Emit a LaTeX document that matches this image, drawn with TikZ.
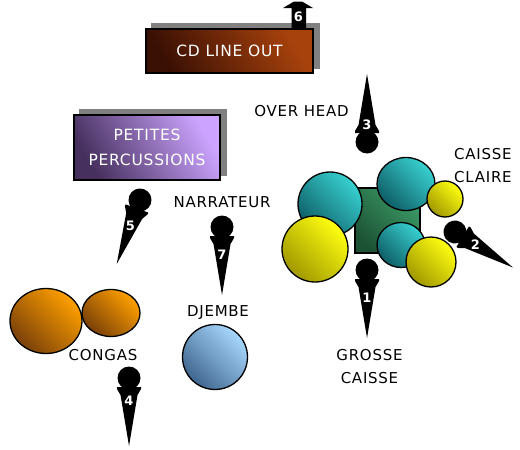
\documentclass[tikz,border=0pt]{standalone}
\usepackage{fontspec}
\setmainfont{DejaVu Sans}[LetterSpace=5]
\usetikzlibrary{backgrounds,shapes.geometric}
\definecolor{tealL}{HTML}{38D0D0}
\definecolor{tealD}{HTML}{0E5E66}
\definecolor{yelL}{HTML}{FFFF10}
\definecolor{yelD}{HTML}{A09800}
\definecolor{grnL}{HTML}{3C9A66}
\definecolor{grnD}{HTML}{1C5234}
\definecolor{orgL}{HTML}{FFA000}
\definecolor{orgD}{HTML}{7A4008}
\definecolor{bluL}{HTML}{A8D8FF}
\definecolor{bluD}{HTML}{40668E}
\definecolor{cdL}{HTML}{A8420C}
\definecolor{cdD}{HTML}{3A1004}
\definecolor{purL}{HTML}{CCA4FF}
\definecolor{purD}{HTML}{46305E}
\definecolor{shadowgray}{HTML}{808080}
\newcommand\drawmic[6]{%
  \begin{scope}[shift={(#2,#3)},rotate=#4]
    \fill[black] (0,0) circle[radius=11.5];
    \fill[black] (-12,9) -- (12,9) -- (12,11) -- (8.5,17) -- (0,68) -- (-8.5,17) -- (-12,11) -- cycle;
    \node[micnum] (#1) at (0,#6) {#5};
  \end{scope}}
\begin{document}
\begin{tikzpicture}[x=1pt,y=-1pt,
  lbl/.style={inner sep=0pt,text=black,font=\fontsize{15}{23}\selectfont},
  boxlbl/.style={inner sep=0pt,text=white,font=\fontsize{15.5}{25}\selectfont},
  micnum/.style={inner sep=0pt,text=white,font=\fontsize{13}{13}\selectfont\bfseries},
  drum/.style 2 args={draw=black,line width=1.3pt,top color=#1,bottom color=#2,shading angle=-45,inner sep=0pt},
  panel/.style 2 args={draw=black,line width=2pt,rectangle,top color=#1,bottom color=#2,shading angle=-60,inner sep=0pt}]
\useasboundingbox (0,0) rectangle (520,450);

% boxes
\node[panel={cdL}{cdD},minimum width=167pt,minimum height=44pt] (cd) at (229.5,51) {};
\node[boxlbl] (cdtxt) at (cd.center) {CD LINE OUT};
\node[panel={purL}{purD},minimum width=146pt,minimum height=65pt] (pp) at (147,147.5) {};
\node[boxlbl,align=center] (pptxt) at (pp.center) {PETITES\\PERCUSSIONS};
\begin{scope}[on background layer]
  \fill[white] (0,0) rectangle (520,450);
  \fill[shadowgray] ([shift={(6,-5)}]cd.south west) rectangle ([shift={(6,-5)}]cd.north east);
  \fill[shadowgray] ([shift={(6,-5)}]pp.south west) rectangle ([shift={(6,-5)}]pp.north east);
\end{scope}

% mic 6 (arrow)
\fill[black] (283,8) -- (294,1.5) -- (302,1.5) -- (313,8) -- (306,8) -- (306,29) -- (291.5,29) -- (291.5,8) -- cycle;
\node[micnum] (m6) at (298.5,17) {6};

% drum kit
\node[draw=black,line width=1.3pt,rectangle,top color=grnL,bottom color=grnD,shading angle=-45,minimum width=65pt,minimum height=65pt] (kit) at (387.5,220.5) {};
\node[drum={tealL}{tealD},circle,minimum size=64pt] (tomA) at (330,204) {};
\node[drum={tealL}{tealD},ellipse,minimum width=58pt,minimum height=53pt] (tomB) at (406,184) {};
\node[drum={tealL}{tealD},ellipse,minimum width=48pt,minimum height=45pt] (tomC) at (401,245) {};
\node[drum={yelL}{yelD},circle,minimum size=66pt] (cymA) at (315,249) {};
\node[drum={yelL}{yelD},circle,minimum size=36pt] (cymB) at (445,199) {};
\node[drum={yelL}{yelD},circle,minimum size=50pt] (cymC) at (431,262) {};

% congas and djembe
\node[drum={orgL}{orgD},ellipse,minimum width=72pt,minimum height=65pt] (congaA) at (46,321) {};
\node[drum={orgL}{orgD},ellipse,minimum width=58pt,minimum height=47pt] (congaB) at (111,313) {};
\node[drum={bluL}{bluD},circle,minimum size=65pt] (djembe) at (215,357) {};

% mics
\drawmic{m1}{367}{270}{0}{1}{28}
\drawmic{m2}{455}{232}{58.5}{2}{24}
\drawmic{m3}{367}{142}{180}{3}{17}
\drawmic{m4}{129}{378}{0}{4}{23}
\drawmic{m5}{140}{200}{-20}{5}{28}
\drawmic{m7}{222}{227}{0}{7}{28}

% labels
\node[lbl] (overhead) at (301.5,111) {OVER HEAD};
\node[lbl] (narr) at (222,202) {NARRATEUR};
\node[lbl] (djl) at (218,313) {DJEMBE};
\node[lbl] (congl) at (103,355) {CONGAS};
\node[lbl,align=left,anchor=west] (ccl) at (454,165.5) {CAISSE\\CLAIRE};
\node[lbl,align=center] (gcl) at (369.5,366.5) {GROSSE\\CAISSE};
\end{tikzpicture}
\end{document}
